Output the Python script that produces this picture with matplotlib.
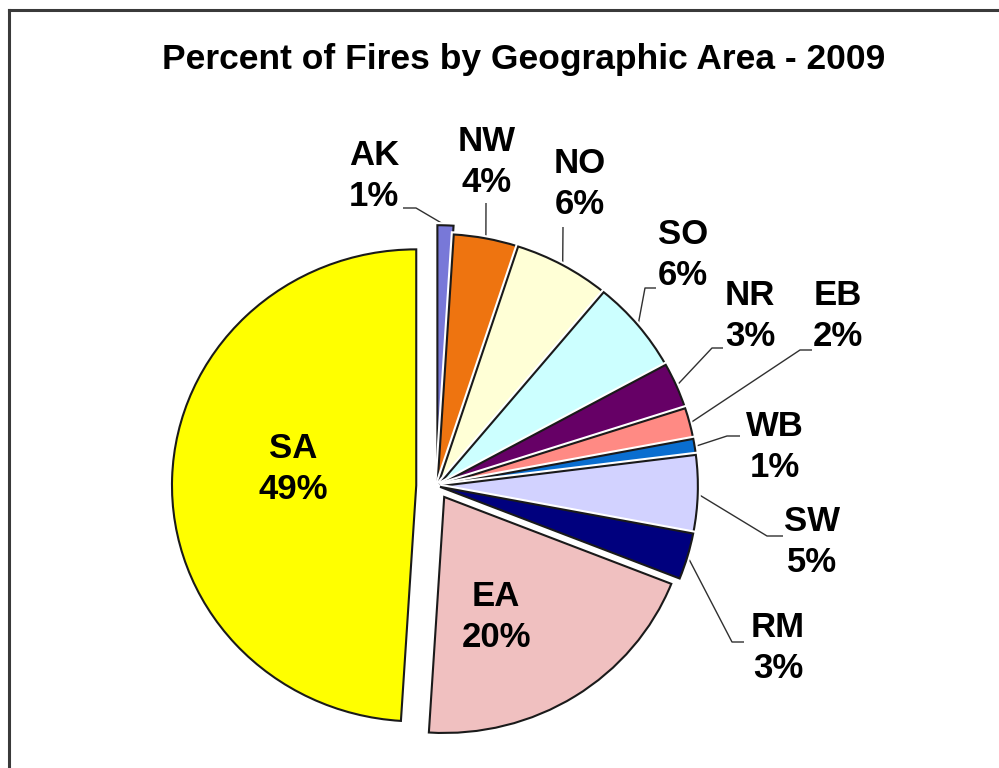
import matplotlib
matplotlib.use("Agg")
import matplotlib.pyplot as plt
import matplotlib.patheffects as pe
from matplotlib.lines import Line2D
import numpy as np

# ---- data ----
areas = ["AK", "NW", "NO", "SO", "NR", "EB", "WB", "SW", "RM", "EA", "SA"]
percents = [1, 4, 6, 6, 3, 2, 1, 5, 3, 20, 49]
colors = ["#7878D8", "#EE7410", "#FFFFD6", "#CCFFFF", "#660066", "#FF8A84",
          "#0A6ED0", "#D2D2FF", "#00007E", "#F0C0C0", "#FFFF00"]
explode_frac = [0.05, 0.013, 0.013, 0.013, 0.013, 0.013, 0.013, 0.013, 0.013, 0.055, 0.085]
title = "Percent of Fires by Geographic Area - 2009"

W, H = 999, 768
SX = 1.035  # slight horizontal stretch of the original picture
R = 236

def P(px, py):
    return (px / SX, H - py)

fig = plt.figure(figsize=(W / 100, H / 100), dpi=100)
fig.patch.set_facecolor("white")
ax = fig.add_axes([0, 0, 1, 1])

wedges, _ = ax.pie(percents, colors=colors, startangle=90, counterclock=False,
                   radius=R, center=P(437, 486),
                   explode=[e * R for e in explode_frac],
                   wedgeprops=dict(edgecolor="#1a1a1a", linewidth=1.5))
for i, w in enumerate(wedges):
    if areas[i] not in ("EA", "SA"):
        w.set_radius(R * 1.055)
        w.set_path_effects([pe.Stroke(linewidth=4.5, foreground="white"), pe.Normal()])

ax.set_aspect("auto")
ax.set_xlim(0, W / SX)
ax.set_ylim(0, H)
ax.axis("off")

font = dict(family=["Liberation Sans", "DejaVu Sans"], fontweight="bold", color="black")

# outside labels: text centre, leader elbow, leader end (pixels)
outside = {
    "AK": ((374, 176), (416, 208), (403, 208)),
    "NW": ((487, 162), (486, 203), (486, 203)),
    "NO": ((580, 184), (563, 227), (563, 227)),
    "SO": ((683, 255), (645, 288), (656, 288)),
    "NR": ((750, 316), (712, 348), (723, 348)),
    "EB": ((838, 316), (800, 350), (812, 350)),
    "WB": ((775, 447), (727, 436), (740, 436)),
    "SW": ((812, 542), (767, 536), (783, 536)),
    "RM": ((778, 648), (732, 642), (744, 642)),
}
inside = {"SA": (293, 469), "EA": (496, 617)}

FS = 25
LS = 1.3
for i, w in enumerate(wedges):
    name = areas[i]
    lab = f"{name}\n{percents[i]}%"
    if name in outside:
        (tx, ty), elbow, end = outside[name]
        ax.text(*P(tx, ty), lab, ha="center", va="center", fontsize=FS,
                linespacing=LS, **font)
        th = np.deg2rad((w.theta1 + w.theta2) / 2)
        cx, cy = w.center
        ax_pt = (cx + w.r * np.cos(th), cy + w.r * np.sin(th))
        e1 = P(*elbow)
        e2 = P(*end)
        ax.plot([ax_pt[0], e1[0], e2[0]], [ax_pt[1], e1[1], e2[1]],
                color="#303030", lw=1.0, solid_capstyle="butt", zorder=0.5)
    else:
        tx, ty = inside[name]
        ax.text(*P(tx, ty), lab, ha="center", va="center", fontsize=FS,
                linespacing=LS, **font)

fig.text(524 / W, 1 - 60 / H, title, ha="center", va="center", fontsize=25.5,
         **font)

# chart frame (only top and left edges are inside the picture)
fig.add_artist(Line2D([9 / W, 9 / W], [0, 1 - 10 / H], transform=fig.transFigure,
                      color="#3a3a3a", lw=2.2))
fig.add_artist(Line2D([9 / W, 1], [1 - 10 / H, 1 - 10 / H], transform=fig.transFigure,
                      color="#3a3a3a", lw=2.2))

fig.savefig("out.png", dpi=100, facecolor="white")
